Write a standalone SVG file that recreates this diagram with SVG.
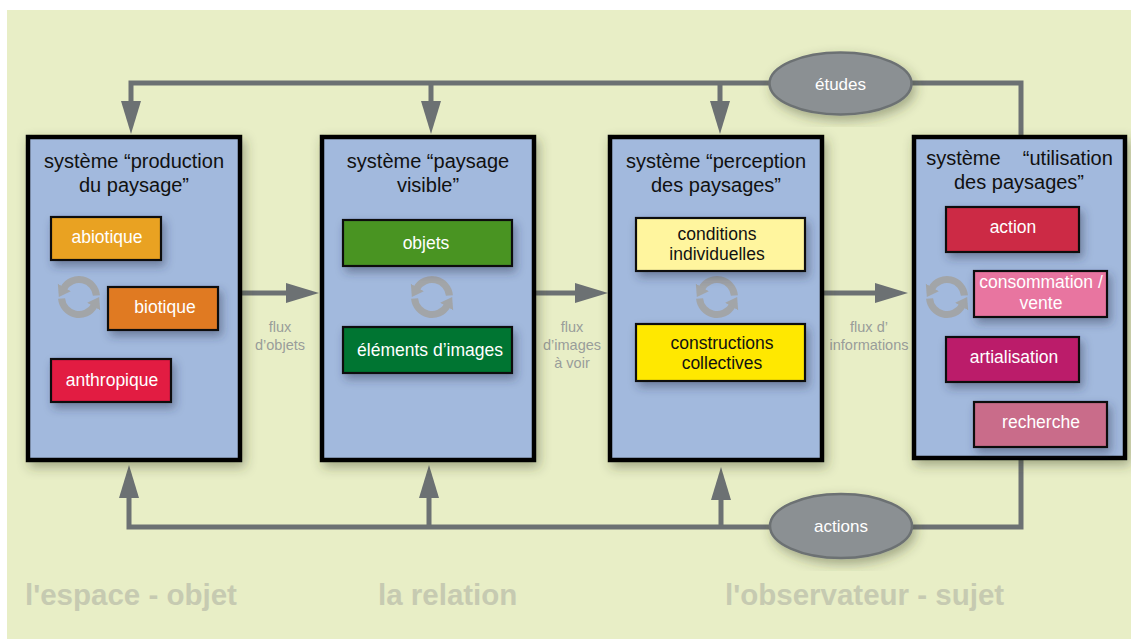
<svg xmlns="http://www.w3.org/2000/svg" width="1131" height="639" viewBox="0 0 1131 639">
<defs>
<filter id="sh" x="-20%" y="-20%" width="140%" height="140%">
<feDropShadow dx="3" dy="5" stdDeviation="6" flood-color="#3a3f20" flood-opacity="0.4"/>
</filter>
<filter id="sh2" x="-30%" y="-40%" width="160%" height="180%">
<feDropShadow dx="3" dy="5" stdDeviation="5" flood-color="#2a3550" flood-opacity="0.45"/>
</filter>
<marker id="ah" markerUnits="userSpaceOnUse" markerWidth="34" markerHeight="22" viewBox="0 -11 34 22" refX="0" refY="0" orient="auto">
<path d="M0,-10 L33,0 L0,10 Z" fill="#6c7173"/>
</marker>
<marker id="ch" markerUnits="userSpaceOnUse" markerWidth="14" markerHeight="16" viewBox="0 -8 14 16" refX="1" refY="0" orient="auto">
<path d="M0,-7.5 L11,0 L0,7.5 Z" fill="#a2a5a8"/>
</marker>
<g id="cyc" fill="none" stroke="#a2a5a8" stroke-width="7">
<path d="M17.43,-1.53 A17.5,17.5 0 0 0 -15.16,-8.75" marker-end="url(#ch)"/>
<path d="M-17.43,1.53 A17.5,17.5 0 0 0 15.16,8.75" marker-end="url(#ch)"/>
</g>
</defs>
<style>
.sys{fill:#a2b9dd;stroke:#000;stroke-width:4.5}
.ttl{font-family:"Liberation Sans",Arial,sans-serif;font-size:20px;fill:#111;text-anchor:middle}
.in{stroke:#111;stroke-width:2.2}
.it{font-family:"Liberation Sans",Arial,sans-serif;font-size:17.5px;fill:#fff;text-anchor:middle}
.itk{font-family:"Liberation Sans",Arial,sans-serif;font-size:17.5px;fill:#111;text-anchor:middle}
.con{fill:none;stroke:#6c7173;stroke-width:5}
.flx{font-family:"Liberation Sans",Arial,sans-serif;font-size:14.5px;fill:#999d9a;text-anchor:middle}
.ell{fill:#8b9093;stroke:#6c7173;stroke-width:2.5}
.et{font-family:"Liberation Sans",Arial,sans-serif;font-size:17px;fill:#fff;text-anchor:middle}
.big{font-family:"Liberation Sans",Arial,sans-serif;font-size:29.5px;font-weight:bold;fill:#c6cab1}
</style>
<rect x="0" y="0" width="1131" height="639" fill="#fff"/>
<rect x="7" y="10" width="1124" height="629" fill="#e8eec6"/>

<g id="connectors">
<path class="con" d="M1021,135 V83 H131 V101" marker-end="url(#ah)"/>
<path class="con" d="M431,83 V101" marker-end="url(#ah)"/>
<path class="con" d="M720,83 V101" marker-end="url(#ah)"/>
<path class="con" d="M1021,460 V527 H129 V498" marker-end="url(#ah)"/>
<path class="con" d="M429,527 V498" marker-end="url(#ah)"/>
<path class="con" d="M721,527 V500" marker-end="url(#ah)"/>
<path class="con" d="M242,293 H286" marker-end="url(#ah)"/>
<path class="con" d="M536,293 H575" marker-end="url(#ah)"/>
<path class="con" d="M824,293 H875" marker-end="url(#ah)"/>
<text class="flx"><tspan x="280" y="332">flux</tspan><tspan x="280" y="350">d’objets</tspan></text>
<text class="flx"><tspan x="572" y="332">flux</tspan><tspan x="572" y="350">d’images</tspan><tspan x="572" y="368">à voir</tspan></text>
<text class="flx"><tspan x="869" y="332">flux d’</tspan><tspan x="869" y="350">informations</tspan></text>
</g>

<g id="etudes">
<ellipse class="ell" cx="840.5" cy="83.5" rx="71" ry="31" filter="url(#sh)"/>
<text class="et" x="840.5" y="89.5">études</text>
</g>
<g id="actions">
<ellipse class="ell" cx="841" cy="526" rx="71" ry="32" filter="url(#sh)"/>
<text class="et" x="841" y="532">actions</text>
</g>

<g id="production">
<rect class="sys" x="28" y="137" width="212" height="323" filter="url(#sh)"/>
<text class="ttl"><tspan x="134" y="168">système “production</tspan><tspan x="134" y="192">du paysage”</tspan></text>
<use href="#cyc" x="79" y="297"/>
<g id="abiotique"><rect class="in" x="51" y="217" width="110" height="43" fill="#e9a222" filter="url(#sh2)"/><text class="it" x="107" y="243">abiotique</text></g>
<g id="biotique"><rect class="in" x="108" y="287" width="110" height="43" fill="#e07a24" filter="url(#sh2)"/><text class="it" x="165" y="313">biotique</text></g>
<g id="anthropique"><rect class="in" x="51" y="359" width="120" height="43" fill="#e21a42" filter="url(#sh2)"/><text class="it" x="112" y="386">anthropique</text></g>
</g>

<g id="paysage-visible">
<rect class="sys" x="322" y="137" width="212" height="323" filter="url(#sh)"/>
<text class="ttl"><tspan x="428" y="168">système “paysage</tspan><tspan x="428" y="192">visible”</tspan></text>
<use href="#cyc" x="432" y="297"/>
<g id="objets"><rect class="in" x="343" y="220" width="169" height="46" fill="#4a9424" filter="url(#sh2)"/><text class="it" x="426" y="249">objets</text></g>
<g id="elements"><rect class="in" x="343" y="327" width="169" height="46" fill="#007530" filter="url(#sh2)"/><text class="it" x="430" y="356">éléments d’images</text></g>
</g>

<g id="perception">
<rect class="sys" x="610" y="137" width="212" height="323" filter="url(#sh)"/>
<text class="ttl"><tspan x="716" y="168">système “perception</tspan><tspan x="716" y="192">des paysages”</tspan></text>
<use href="#cyc" x="717" y="297"/>
<g id="conditions"><rect class="in" x="636" y="218" width="169" height="53" fill="#fff59e" filter="url(#sh2)"/><text class="itk"><tspan x="717" y="240">conditions</tspan><tspan x="717" y="260">individuelles</tspan></text></g>
<g id="constructions"><rect class="in" x="636" y="324" width="169" height="57" fill="#ffe800" filter="url(#sh2)"/><text class="itk"><tspan x="722" y="349">constructions</tspan><tspan x="722" y="369">collectives</tspan></text></g>
</g>

<g id="utilisation">
<rect class="sys" x="914" y="137" width="211" height="321" filter="url(#sh)"/>
<text class="ttl"><tspan x="1019.5" y="165">système&#160;&#160;&#160; “utilisation</tspan><tspan x="1019" y="189">des paysages”</tspan></text>
<use href="#cyc" x="947" y="297"/>
<g id="action"><rect class="in" x="946" y="207" width="133" height="45" fill="#cc2b44" filter="url(#sh2)"/><text class="it" x="1013" y="233">action</text></g>
<g id="consommation"><rect class="in" x="974" y="271" width="133" height="46" fill="#e875a0" filter="url(#sh2)"/><text class="it"><tspan x="1041" y="288">consommation /</tspan><tspan x="1041" y="309">vente</tspan></text></g>
<g id="artialisation"><rect class="in" x="946" y="337" width="133" height="45" fill="#bb1e6a" filter="url(#sh2)"/><text class="it" x="1014" y="363">artialisation</text></g>
<g id="recherche"><rect class="in" x="974" y="402" width="133" height="45" fill="#c96c8a" filter="url(#sh2)"/><text class="it" x="1041" y="428">recherche</text></g>
</g>

<g id="labels">
<text class="big" x="25" y="605">l'espace - objet</text>
<text class="big" x="378" y="605">la relation</text>
<text class="big" x="725" y="605">l'observateur - sujet</text>
</g>
</svg>
